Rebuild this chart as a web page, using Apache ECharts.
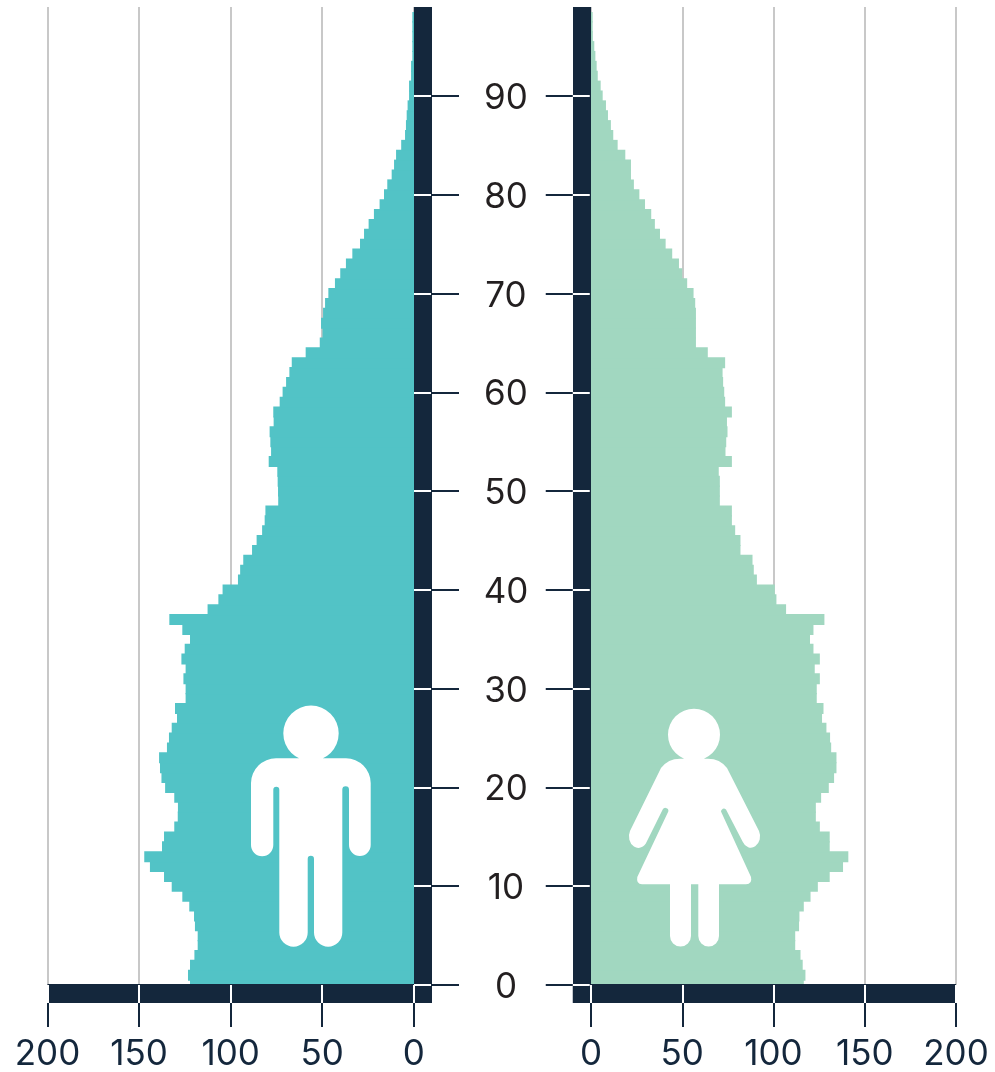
<!DOCTYPE html>
<html>
<head>
<meta charset="utf-8">
<title>Piramide</title>
<style>
  html, body { margin: 0; padding: 0; background: #fff; }
  #piramide { width: 995px; height: 1072px; }
</style>
<script src="https://cdn.jsdelivr.net/npm/echarts@6/dist/echarts.min.js"></script>
</head>
<body>
<div id="piramide"></div>
<script>
// edades 0..98
const edades = [
  0, 1, 2, 3, 4, 5, 6, 7, 8, 9, 10, 11, 12, 13, 14, 15, 16, 17, 18, 19,
  20, 21, 22, 23, 24, 25, 26, 27, 28, 29, 30, 31, 32, 33, 34, 35, 36, 37, 38, 39,
  40, 41, 42, 43, 44, 45, 46, 47, 48, 49, 50, 51, 52, 53, 54, 55, 56, 57, 58, 59,
  60, 61, 62, 63, 64, 65, 66, 67, 68, 69, 70, 71, 72, 73, 74, 75, 76, 77, 78, 79,
  80, 81, 82, 83, 84, 85, 86, 87, 88, 89, 90, 91, 92, 93, 94, 95, 96, 97, 98
];
const hombres = [
  122.4, 123.5, 122.4, 120, 118.2, 118.2, 119.7, 120.2, 122.8, 126.6,
  132.4, 136.6, 144.3, 147.4, 137.7, 136.6, 131, 129.1, 129, 131,
  136, 138, 138.8, 139.3, 135, 133.9, 132.4, 129.5, 130.6, 124.8,
  124.8, 126, 124.8, 127.1, 125.3, 122.4, 126.6, 133.7, 112.8, 106.9,
  104.6, 96.2, 95, 93.3, 88.5, 86, 83, 81.6, 81.2, 74.2,
  74.3, 74.5, 74.7, 79.4, 78.1, 78.5, 78.9, 76.7, 76.9, 73.4,
  71.8, 69.9, 68.1, 66.8, 59.2, 51.5, 50, 50.8, 49.7, 48.6,
  46.8, 43.2, 40.3, 37.2, 33.7, 29.5, 27.3, 24.8, 21.9, 18.8,
  16.4, 14.6, 12.2, 10.9, 9.8, 7, 4.9, 4.4, 4, 3.5,
  2.7, 2.7, 1.6, 1.6, 0.9, 0.9, 0.9, 0.9, 0.9
];
const mujeres = [
  116.6, 117.5, 116, 114.8, 111.9, 111.9, 114, 114.2, 116.6, 120.3,
  124.3, 130.8, 138.1, 141, 130.8, 130.8, 125.4, 123.2, 123.2, 126.1,
  130.3, 133.2, 134.5, 134.5, 131.6, 131, 129, 126.6, 127.4, 123.7,
  123.7, 125.4, 122.6, 125.4, 121.9, 120, 121.9, 127.9, 106.9, 101.6,
  100.7, 90.9, 89.2, 88.5, 81.9, 81.9, 79, 77.2, 77.2, 70.6,
  70.6, 70.6, 70, 77.2, 73.7, 74.1, 74.8, 74.5, 77.2, 73.5,
  73, 72.4, 72.1, 73.5, 64, 57.5, 57.5, 57.5, 57.5, 57.1,
  56.2, 52.7, 50, 48.2, 44.5, 40.9, 37.8, 35, 33, 29.6,
  26.5, 23.5, 21.9, 21.9, 18.8, 14.6, 12.2, 10.9, 9.3, 8.2,
  6.4, 5.3, 3.7, 3.1, 2.4, 1.8, 1, 0.9, 0.9
];
const ticksEdad = [0, 10, 20, 30, 40, 50, 60, 70, 80, 90];
const ticksValor = [0, 50, 100, 150, 200];

const azul = '#14273c';
const fuente = 'Inter';

// siluetas blancas
const iconoHombre = 'M276 758.3H346A25 25 0 0 1 370.7 783V845A10.85 11 0 0 1 349 845V789.7A3.35 3.35 0 0 0 342.3 789.7' +
  'V932.5A14.15 14.15 0 0 1 314 932.5V859A3.15 3.15 0 0 0 307.7 859V932.5A14.2 14.2 0 0 1 279.3 932.5' +
  'V789.7A3 3 0 0 0 273.3 789.7V845A11 11 0 0 1 251 845V783A25 25 0 0 1 276 758.3Z' +
  'M283.3 733.3A27.7 27.7 0 1 1 338.7 733.3A27.7 27.7 0 1 1 283.3 733.3Z';
const iconoMujer = 'M680 758.7H708Q720 758.7 727 768L759 831A9 11 0 0 1 742.7 841.7L726 809.5A3 3 0 0 0 721 811.5' +
  'L751 877Q752.5 884.3 746 884.3H719V936A10.35 10.5 0 0 1 698.3 936V884.3H691V936A10.5 10.5 0 0 1 670 936V884.3' +
  'H642Q636 884.3 637.3 877L668.3 811.5A3 3 0 0 0 662.7 809.5L646.7 841.7A9 11 0 0 1 630 831L661 768Q668 758.7 680 758.7Z' +
  'M668 734.7A26 26 0 1 1 720 734.7A26 26 0 1 1 668 734.7Z';

echarts.graphic.registerShape('iconoHombre', echarts.graphic.extendPath(iconoHombre));
echarts.graphic.registerShape('iconoMujer', echarts.graphic.extendPath(iconoMujer));

// grid de barras + grid de ejes para un lado
function ejesLado(grid, izq) {
  const lineaOff = { show: false, onZero: false };
  const ejeX = {
    gridIndex: grid, type: 'value', min: -10, max: 200, inverse: izq, position: 'bottom',
    axisLine: lineaOff, axisLabel: { show: false }, axisTick: { show: false },
    splitLine: { show: false }
  };
  const ejeY = {
    gridIndex: grid, type: 'value', min: -1.822, max: 99, position: izq ? 'right' : 'left',
    axisLine: lineaOff, axisLabel: { show: false }, axisTick: { show: false },
    splitLine: { show: false }
  };
  return {
    x: [
      // lineas grises
      { ...ejeX, z: 1, axisTick: { show: false, customValues: ticksValor },
        splitLine: { show: true, lineStyle: { color: '#c8c8c8', width: 2 } } },
      // banda inferior
      { ...ejeX, z: 3, offset: -9.5, axisLine: { show: true, onZero: false, lineStyle: { color: azul, width: 19, cap: 'butt' } } },
      // marcas blancas dentro de la banda
      { ...ejeX, z: 4, axisTick: { show: true, inside: true, length: 18, customValues: ticksValor,
        lineStyle: { color: '#fff', width: 2 } } },
      // marcas y etiquetas
      { ...ejeX, z: 4,
        axisTick: { show: true, length: 24, customValues: ticksValor, lineStyle: { color: azul, width: 2 } },
        axisLabel: { show: true, customValues: ticksValor, margin: 51, verticalAlign: 'middle',
          color: azul, fontSize: 35, fontFamily: fuente } }
    ],
    y: [
      { ...ejeY, z: 3, offset: -9, axisLine: { show: true, onZero: false, lineStyle: { color: azul, width: 18, cap: 'butt' } } },
      { ...ejeY, z: 4, offset: izq ? -1 : 0, axisTick: { show: true, inside: true, length: 17, customValues: ticksEdad,
        lineStyle: { color: '#fff', width: 2 } } },
      { ...ejeY, z: 4,
        axisTick: { show: true, length: 27, customValues: ticksEdad, lineStyle: { color: azul, width: 2 } },
        axisLabel: izq
          ? { show: true, customValues: ticksEdad, align: 'center', margin: 74,
              formatter: (v) => `{e|${v}}`,
              rich: { e: { padding: [5, 0, 0, 0], color: '#231f20', fontSize: 35, fontFamily: fuente } } }
          : { show: false } }
    ]
  };
}

const ladoH = ejesLado(2, true);
const ladoM = ejesLado(3, false);

const barrasX = (grid, izq) => ({
  gridIndex: grid, type: 'value', min: 0, max: 200, inverse: izq, show: false
});
const barrasY = (grid) => ({
  gridIndex: grid, type: 'category', data: edades, show: false
});

const option = {
  animation: false,
  backgroundColor: '#fff',
  grid: [
    { left: 48, width: 366, top: 12, height: 978, outerBoundsMode: 'none' },
    { left: 591, width: 365, top: 12, height: 978, outerBoundsMode: 'none' },
    { left: 47.5, width: 384.5, top: 7, height: 996, outerBoundsMode: 'none' },
    { left: 572.75, width: 383.25, top: 7, height: 996, outerBoundsMode: 'none' }
  ],
  xAxis: [barrasX(0, true), barrasX(1, false), ...ladoH.x, ...ladoM.x],
  yAxis: [barrasY(0), barrasY(1), ...ladoH.y, ...ladoM.y],
  series: [
    { name: 'Hombres', type: 'bar', xAxisIndex: 0, yAxisIndex: 0, barWidth: 11,
      itemStyle: { color: '#52c3c6' }, data: hombres },
    { name: 'Mujeres', type: 'bar', xAxisIndex: 1, yAxisIndex: 1, barWidth: 11,
      itemStyle: { color: '#a1d7c0' }, data: mujeres }
  ],
  graphic: [
    { type: 'iconoHombre', z: 10, style: { fill: '#fff' } },
    { type: 'iconoMujer', z: 10, style: { fill: '#fff' } }
  ]
};

const grafico = echarts.init(document.getElementById('piramide'));
grafico.setOption(option);
</script>
</body>
</html>
